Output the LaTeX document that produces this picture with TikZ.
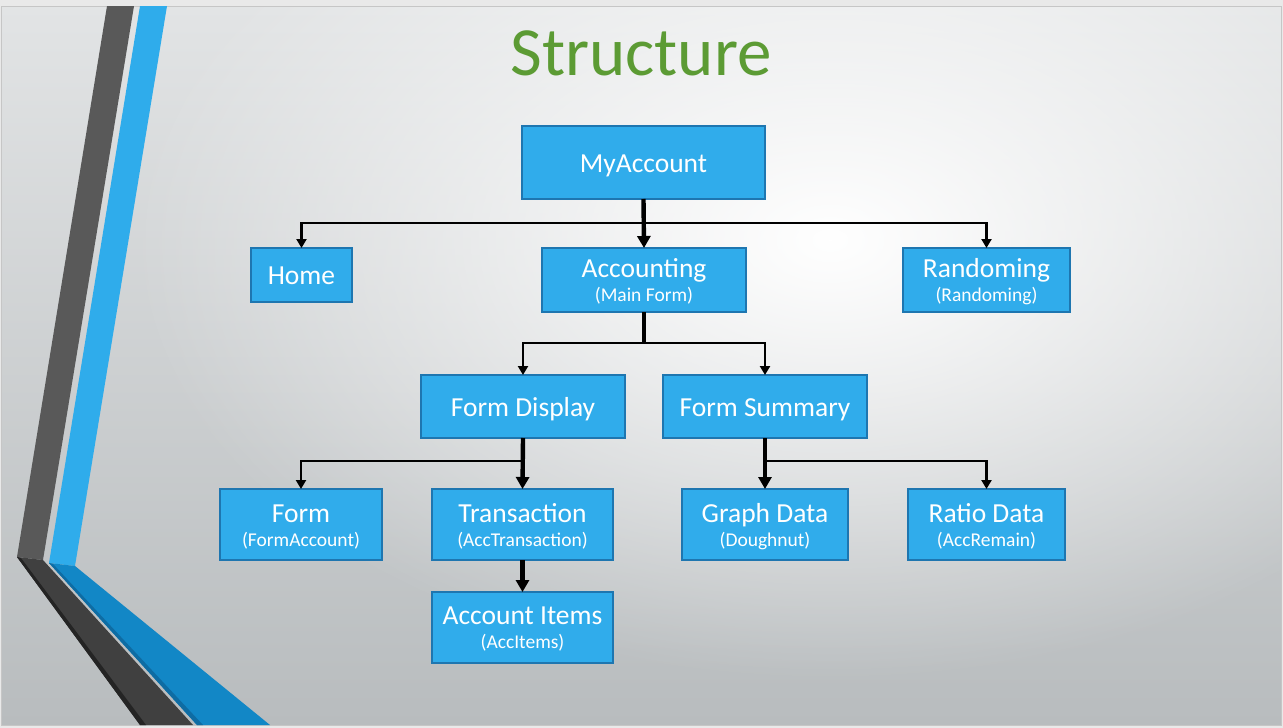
\documentclass[tikz,border=0pt]{standalone}
\usepackage{fontspec}
\setmainfont{Carlito}
\usetikzlibrary{arrows.meta,fadings}
\definecolor{boxfill}{RGB}{48,172,235}
\definecolor{boxdraw}{RGB}{30,118,176}
\definecolor{titlegreen}{RGB}{92,155,52}
\definecolor{darkband}{RGB}{89,89,89}
\definecolor{darklow}{RGB}{64,64,64}
\definecolor{darkedge}{RGB}{36,36,36}
\definecolor{blueband}{RGB}{47,172,235}
\definecolor{bluelow}{RGB}{18,135,198}
\definecolor{blueedge}{RGB}{14,108,163}
\definecolor{frame}{RGB}{233,233,233}
\definecolor{frameline}{RGB}{198,198,198}
\definecolor{bgtop}{RGB}{226,228,229}
\definecolor{bgbottom}{RGB}{184,188,190}
\tikzfading[name=glowfade, inner color=transparent!0, outer color=transparent!100]
\begin{document}
\begin{tikzpicture}[x=1pt,y=-1pt,
  box/.style={draw=boxdraw, line width=1.6pt, fill=boxfill, inner sep=0pt, outer sep=0pt},
  maintext/.style={anchor=base, inner sep=0pt, text=white, font=\fontsize{27.5}{30}\selectfont},
  subtext/.style={anchor=base, inner sep=0pt, text=white, font=\fontsize{19.5}{21}\selectfont},
  thinarrow/.style={line width=2.9pt, -{Triangle[length=9pt,width=10pt]}},
  thickarrow/.style={line width=4.4pt, -{Triangle[length=12pt,width=13pt]}},
  medline/.style={line width=3.2pt}]
% background
\fill[frame] (0,0) rectangle (1283,728);
\shade[top color=bgtop, bottom color=bgbottom] (1,6) rectangle (1281,725);
\begin{scope}
\clip (1,6) rectangle (1281,725);
\fill[white, path fading=glowfade] (830,240) ellipse [x radius=700, y radius=440];
\end{scope}
\draw[frameline, line width=1pt] (1,6) rectangle (1281,725);
% left decoration
\fill[darkband] (107,6) -- (134,6) -- (43,560) -- (17,557) -- cycle;
\fill[darklow] (17,557) -- (43,560) -- (193,725) -- (140,725) -- cycle;
\fill[darkedge] (17,557) -- (21,558) -- (146,725) -- (140,725) -- cycle;
\fill[blueband] (140,6) -- (167,6) -- (75,566) -- (49,563) -- cycle;
\fill[bluelow] (49,563) -- (75,566) -- (270,725) -- (197,725) -- cycle;
\fill[blueedge] (49,563) -- (53,564) -- (203,725) -- (197,725) -- cycle;
% title
\node[anchor=base, inner sep=0pt, text=titlegreen, font=\fontsize{69}{72}\selectfont] (title) at (641,75) {Structure};
% boxes
\node[box, minimum width=243pt, minimum height=73pt] (myacc) at (643.5,162.5) {};
\node[box, minimum width=101pt, minimum height=54pt] (home) at (301.5,275) {};
\node[box, minimum width=204pt, minimum height=64pt] (acc) at (644,280) {};
\node[box, minimum width=167pt, minimum height=64pt] (rand) at (986.5,280) {};
\node[box, minimum width=204pt, minimum height=63pt] (fdisp) at (523,406.5) {};
\node[box, minimum width=204pt, minimum height=63pt] (fsum) at (765,406.5) {};
\node[box, minimum width=162pt, minimum height=71pt] (form) at (301,524.5) {};
\node[box, minimum width=181pt, minimum height=71pt] (trans) at (522.5,524.5) {};
\node[box, minimum width=181pt, minimum height=71pt] (items) at (522.5,627.5) {};
\node[box, minimum width=166pt, minimum height=71pt] (graph) at (765,524.5) {};
\node[box, minimum width=157pt, minimum height=71pt] (ratio) at (986.5,524.5) {};
% texts
\node[maintext] (myacc-t) at ([yshift=-9.5pt]myacc.center) {MyAccount};
\node[maintext] (home-t) at ([yshift=-9pt]home.center) {Home};
\node[maintext] (acc-t) at ([yshift=2.5pt]acc.center) {Accounting};
\node[subtext] (acc-s) at ([yshift=-21.5pt]acc.center) {(Main Form)};
\node[maintext] (rand-t) at ([yshift=2.5pt]rand.center) {Randoming};
\node[subtext] (rand-s) at ([yshift=-21.5pt]rand.center) {(Randoming)};
\node[maintext] (fdisp-t) at ([yshift=-9.5pt]fdisp.center) {Form Display};
\node[maintext] (fsum-t) at ([yshift=-9.5pt]fsum.center) {Form Summary};
\node[maintext] (form-t) at ([yshift=2.5pt]form.center) {Form};
\node[subtext] (form-s) at ([yshift=-21.5pt]form.center) {(FormAccount)};
\node[maintext] (trans-t) at ([yshift=2.5pt]trans.center) {Transaction};
\node[subtext] (trans-s) at ([yshift=-21.5pt]trans.center) {(AccTransaction)};
\node[maintext] (items-t) at ([yshift=3pt]items.center) {Account Items};
\node[subtext] (items-s) at ([yshift=-20.5pt]items.center) {(AccItems)};
\node[maintext] (graph-t) at ([yshift=2.5pt]graph.center) {Graph Data};
\node[subtext] (graph-s) at ([yshift=-21.5pt]graph.center) {(Doughnut)};
\node[maintext] (ratio-t) at ([yshift=2.5pt]ratio.center) {Ratio Data};
\node[subtext] (ratio-s) at ([yshift=-21.5pt]ratio.center) {(AccRemain)};
% connectors
\coordinate (b1) at (643.5,223);
\coordinate (b2) at (644,343);
\coordinate (b3) at (522.5,461);
\coordinate (b4) at (765,461);
\draw[thinarrow] (b1) -| (home.north);
\draw[thinarrow] (b1) -| (rand.north);
\draw[thickarrow] (myacc.south) -- (acc.north);
\draw[medline] (acc.south) -- (b2);
\draw[thinarrow] (b2) -| (fdisp.north);
\draw[thinarrow] (b2) -| (fsum.north);
\draw[thinarrow] (b3) -| (form.north);
\draw[thickarrow] (fdisp.south) -- (trans.north);
\draw[thinarrow] (b4) -| (ratio.north);
\draw[thickarrow] (fsum.south) -- (graph.north);
\draw[thickarrow] (trans.south) -- (items.north);
\end{tikzpicture}
\end{document}
